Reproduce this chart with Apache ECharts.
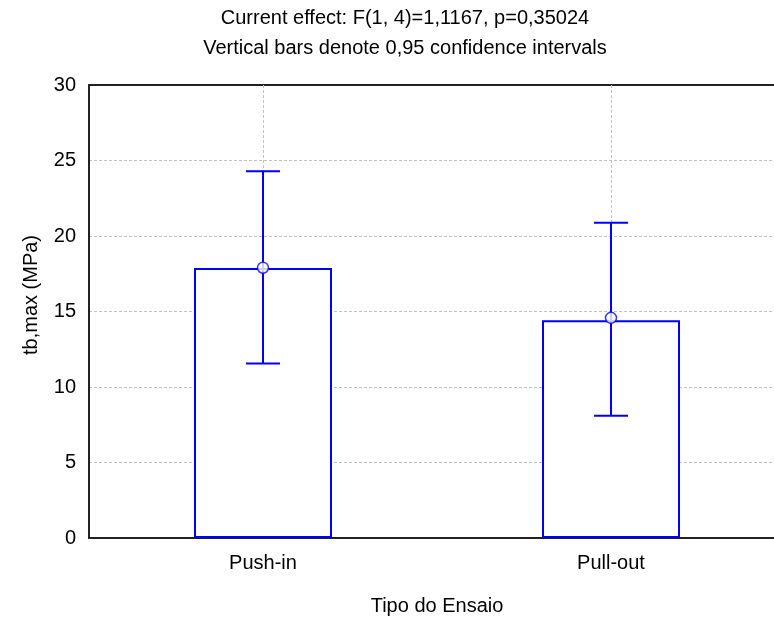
<!DOCTYPE html>
<html>
<head>
<meta charset="utf-8">
<script src="https://cdn.jsdelivr.net/npm/echarts@6/dist/echarts.min.js"></script>
<style>html,body{margin:0;padding:0;background:#fff}#c{width:774px;height:618px}</style>
</head>
<body>
<div id="c"></div>
<script>
const categories = ['Push-in', 'Pull-out'];
const barValues = [17.88, 14.42];
const meanValues = [17.9, 14.58];
const ciLow = [11.55, 8.1];
const ciHigh = [24.28, 20.87];
const titleLines = ['Current effect: F(1, 4)=1,1167, p=0,35024', 'Vertical bars denote 0,95 confidence intervals'];
const yAxisName = 'tb,max (MPa)';
const xAxisName = 'Tipo do Ensaio';

const FONT = 'Liberation Sans, Arial, sans-serif';
const BLUE = '#0000ff';
const chart = echarts.init(document.getElementById('c'), null, {renderer: 'canvas'});

const errData = categories.map((c, i) => [i, ciLow[i], ciHigh[i]]);

chart.setOption({
  animation: false,
  backgroundColor: '#fff',
  title: [
    {text: titleLines[0], left: 400, top: 3, textAlign: 'center',
     textStyle: {fontFamily: FONT, fontSize: 20, fontWeight: 'normal', color: '#000'}},
    {text: titleLines[1], left: 400, top: 33, textAlign: 'center',
     textStyle: {fontFamily: FONT, fontSize: 20, fontWeight: 'normal', color: '#000'}}
  ],
  graphic: [{
    type: 'text', x: 31, y: 295, rotation: Math.PI / 2,
    style: {text: yAxisName, fontFamily: FONT, fontSize: 20, fill: '#000', align: 'center', verticalAlign: 'middle'}
  }],
  grid: {left: 89, top: 85, width: 696, bottom: 80, containLabel: false, outerBoundsMode: 'none'},
  xAxis: [{
    type: 'category', data: categories, position: 'bottom',
    axisLine: {lineStyle: {color: '#222', width: 2}},
    axisTick: {inside: true, alignWithLabel: true, length: 4, lineStyle: {color: '#222'}},
    axisLabel: {fontFamily: FONT, fontSize: 20, color: '#000', margin: 15},
    splitLine: {show: false},
    name: xAxisName, nameLocation: 'middle', nameGap: 58,
    nameTextStyle: {fontFamily: FONT, fontSize: 20, color: '#000'}
  }, {
    type: 'category', data: categories, position: 'top',
    axisLine: {lineStyle: {color: '#222', width: 2}},
    axisTick: {inside: true, alignWithLabel: true, length: 4, lineStyle: {color: '#222'}},
    axisLabel: {show: false},
    splitLine: {show: false}
  }],
  yAxis: {
    type: 'value', min: 0, max: 30, interval: 5,
    axisLine: {show: true, lineStyle: {color: '#222', width: 2}},
    axisTick: {show: false},
    axisLabel: {fontFamily: FONT, fontSize: 20, color: '#000', margin: 13},
    splitLine: {lineStyle: {color: '#c0c0c0', type: [3, 2], width: 1}}
  },
  series: [{
    type: 'bar', data: barValues, barWidth: 138, z: 2,
    itemStyle: {color: '#fff', borderColor: BLUE, borderWidth: 2},
    markLine: {
      silent: true, symbol: 'none', z: 1, label: {show: false},
      lineStyle: {color: '#c0c0c0', type: [3, 2], width: 1},
      data: categories.map(c => ({xAxis: c}))
    }
  }, {
    type: 'custom', data: errData, z: 3,
    renderItem: function (params, api) {
      const x = api.value(0);
      const lo = api.coord([x, api.value(1)]);
      const hi = api.coord([x, api.value(2)]);
      const hw = 17;
      const st = {stroke: BLUE, lineWidth: 2};
      return {type: 'group', children: [
        {type: 'line', shape: {x1: lo[0], y1: lo[1], x2: hi[0], y2: hi[1]}, style: st},
        {type: 'line', shape: {x1: lo[0] - hw, y1: lo[1], x2: lo[0] + hw, y2: lo[1]}, style: st},
        {type: 'line', shape: {x1: hi[0] - hw, y1: hi[1], x2: hi[0] + hw, y2: hi[1]}, style: st}
      ]};
    }
  }, {
    type: 'scatter', data: meanValues, z: 4, symbol: 'circle', symbolSize: 11,
    itemStyle: {color: '#fff', borderColor: BLUE, borderWidth: 1.5}
  }]
});
</script>
</body>
</html>
